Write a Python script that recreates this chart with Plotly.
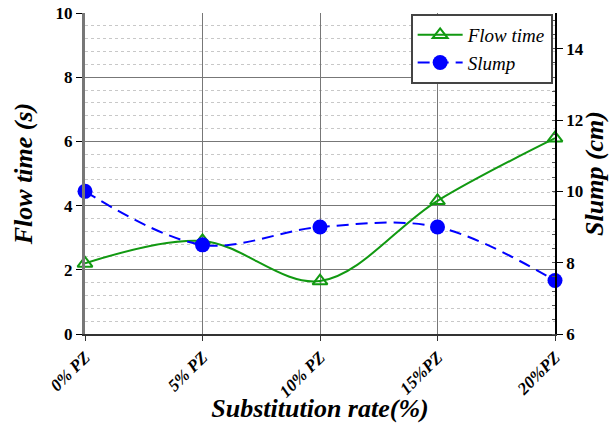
import plotly.graph_objects as go

categories = ["0% PZ", "5% PZ", "10% PZ", "15%PZ", "20%PZ"]
flow_time = [2.2, 2.9, 1.65, 4.15, 6.1]
slump = [10.0, 8.5, 9.0, 9.0, 7.5]

xpos = list(range(len(categories)))
FONT = "Liberation Serif"

fig = go.Figure()
fig.add_trace(go.Scatter(
    x=xpos, y=flow_time, name="Flow time", mode="lines+markers",
    line=dict(color="#119911", width=2, shape="spline", smoothing=1.0),
    marker=dict(symbol="triangle-up-open", size=13, color="#119911", line=dict(width=2)),
    cliponaxis=False, yaxis="y"))
fig.add_trace(go.Scatter(
    x=xpos, y=slump, name="Slump", mode="lines+markers",
    line=dict(color="#0000ff", width=2, dash="12px,7px", shape="spline", smoothing=1.0),
    marker=dict(symbol="circle", size=15, color="#0000ff"),
    cliponaxis=False, yaxis="y2"))

fig.update_layout(
    width=609, height=423,
    margin=dict(l=85, r=54, t=13, b=89),
    plot_bgcolor="white", paper_bgcolor="white",
    font=dict(family=FONT, color="black"),
    showlegend=True,
    legend=dict(x=0.995, y=0.997, xanchor="right", yanchor="top",
                bgcolor="white", bordercolor="#444", borderwidth=2,
                font=dict(family=FONT, size=19, style="italic"),
                tracegroupgap=0, itemwidth=45),
    xaxis=dict(
        tickvals=xpos, ticktext=categories,
        range=[0, 4], automargin=False,
        tickangle=-45, tickfont=dict(family=FONT, size=17, weight="bold", style="italic"),
        showgrid=True, gridcolor="#777", gridwidth=1,
        showline=True, linecolor="#333", linewidth=1.5,
        ticks="outside", ticklen=5, tickcolor="#333",
        zeroline=False,
        title=dict(text="Substitution rate(%)", standoff=6,
                   font=dict(family=FONT, size=26, weight="bold", style="italic")),
    ),
    yaxis=dict(
        range=[0, 10], dtick=2, tick0=0, automargin=False,
        tickfont=dict(family=FONT, size=17, weight="bold"),
        showgrid=True, gridcolor="#777", gridwidth=1,
        showline=True, linecolor="#777", linewidth=3,
        ticks="outside", ticklen=6, tickcolor="black",
        zeroline=False,
        minor=dict(dtick=0.4, showgrid=True, gridcolor="#c8c8c8", griddash="dot", gridwidth=1),
        title=dict(text="Flow time (s)", standoff=16,
                   font=dict(family=FONT, size=26, weight="bold", style="italic")),
    ),
    yaxis2=dict(
        overlaying="y", side="right", range=[6, 15], tickvals=[6, 8, 10, 12, 14],
        automargin=False,
        tickfont=dict(family=FONT, size=17, weight="bold"),
        showgrid=False, zeroline=False,
        showline=True, linecolor="black", linewidth=1.5,
        ticks="outside", ticklen=6, tickcolor="black",
        minor=dict(dtick=0.4, ticks="inside", ticklen=3, tickcolor="#555"),
        title=dict(text="Slump (cm)", standoff=14,
                   font=dict(family=FONT, size=26, weight="bold", style="italic")),
    ),
)

fig.write_html("out.html")
